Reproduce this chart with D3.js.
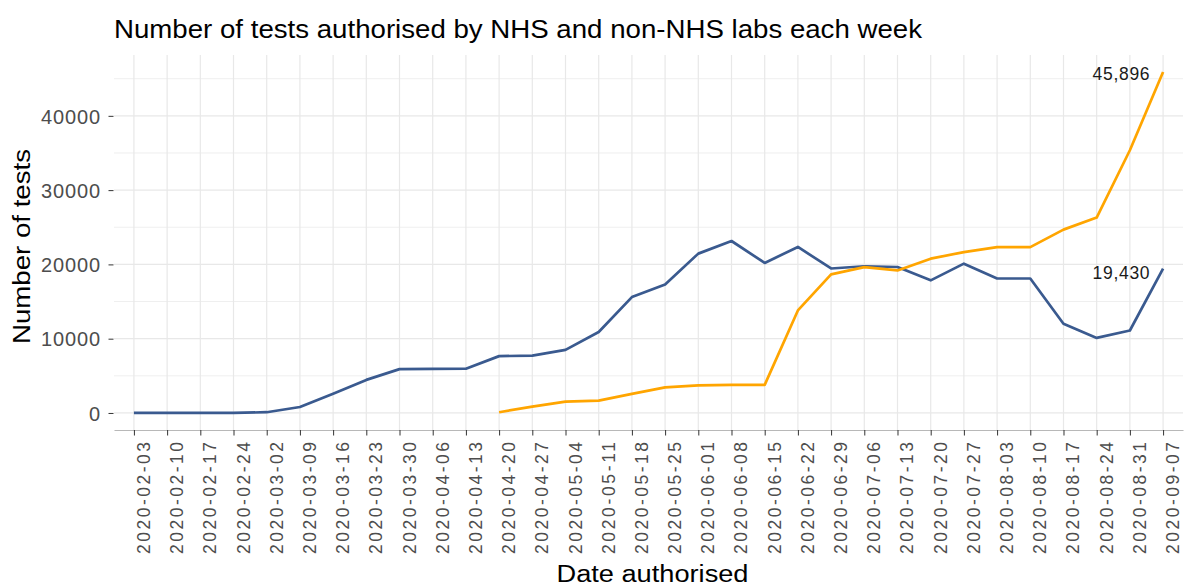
<!DOCTYPE html>
<html>
<head>
<meta charset="utf-8">
<script src="https://cdn.jsdelivr.net/npm/d3@7"></script>
<style>
  body { margin: 0; background: #fff; }
  svg { font-family: "Liberation Sans", Arial, sans-serif; }
</style>
</head>
<body>
<svg width="1192" height="588"></svg>
<script>
// weekly dates on the x axis
const weeks = ["2020-02-03","2020-02-10","2020-02-17","2020-02-24","2020-03-02","2020-03-09",
  "2020-03-16","2020-03-23","2020-03-30","2020-04-06","2020-04-13","2020-04-20","2020-04-27",
  "2020-05-04","2020-05-11","2020-05-18","2020-05-25","2020-06-01","2020-06-08","2020-06-15",
  "2020-06-22","2020-06-29","2020-07-06","2020-07-13","2020-07-20","2020-07-27","2020-08-03",
  "2020-08-10","2020-08-17","2020-08-24","2020-08-31","2020-09-07"]

// NHS labs (blue line)
const nhsTests = [0,0,0,0,100,800,2600,4450,5900,5930,5950,7650,7720,8500,10900,15600,17300,
  21450,23150,20200,22350,19450,19750,19650,17850,20100,18100,18100,12000,10100,11100,19430]

// non-NHS labs (orange line), starts on 2020-04-20
const nonNhsTests = [null,null,null,null,null,null,null,null,null,null,null,100,850,1520,1660,
  2560,3450,3720,3780,3780,13800,18650,19640,19190,20770,21660,22330,22330,24680,26300,35370,45896]

const yTicks = [0, 10000, 20000, 30000, 40000]
const yMinor = [5000, 15000, 25000, 35000, 45000]

const seriesList = [
  { name: "NHS", values: nhsTests, color: "#3a5a8f" },
  { name: "non-NHS", values: nonNhsTests, color: "#ffa500" }
]

const svg = d3.select("svg")
const margin = { top: 55, right: 9, bottom: 158, left: 114 }
const width = +svg.attr("width")
const height = +svg.attr("height")
const innerWidth = width - margin.left - margin.right
const innerHeight = height - margin.top - margin.bottom

// ggplot style padding: 0.6 step on discrete axis, 5% on continuous
const xScale = d3.scalePoint()
  .domain(weeks)
  .range([0, innerWidth])
  .padding(0.6)

const maxVal = d3.max(seriesList, s => d3.max(s.values))
const yScale = d3.scaleLinear()
  .domain([-0.05 * maxVal, 1.05 * maxVal])
  .range([innerHeight, 0])

const g = svg.append("g")
  .attr("transform", `translate(${margin.left},${margin.top})`)

// gridlines
g.append("g").selectAll("line")
  .data(yMinor)
  .join("line")
    .attr("x1", 0).attr("x2", innerWidth)
    .attr("y1", d => yScale(d)).attr("y2", d => yScale(d))
    .attr("stroke", "#efefef").attr("stroke-width", 1)

g.append("g").selectAll("line")
  .data(yTicks)
  .join("line")
    .attr("x1", 0).attr("x2", innerWidth)
    .attr("y1", d => yScale(d)).attr("y2", d => yScale(d))
    .attr("stroke", "#e8e8e8").attr("stroke-width", 1.2)

g.append("g").selectAll("line")
  .data(weeks)
  .join("line")
    .attr("x1", d => xScale(d)).attr("x2", d => xScale(d))
    .attr("y1", 0).attr("y2", innerHeight)
    .attr("stroke", "#e8e8e8").attr("stroke-width", 1.2)

// y axis
const yAxis = g.append("g")
  .call(d3.axisLeft(yScale)
    .tickValues(yTicks)
    .tickFormat(d3.format("d"))
    .tickSize(5)
    .tickPadding(9))
yAxis.select(".domain").remove()
yAxis.selectAll("line").attr("stroke", "#333").attr("transform", "translate(-0.5,0)")
yAxis.selectAll("text")
  .attr("fill", "#4d4d4d")
  .style("font-size", "20px")
  .attr("textLength", d => String(d).length * 11.8)
  .attr("lengthAdjust", "spacing")
  .attr("dy", "0.36em")

// x axis, labels turned to read upwards
const xAxis = g.append("g")
  .attr("transform", `translate(0,${innerHeight})`)
  .call(d3.axisBottom(xScale).tickSize(5.5).tickSizeOuter(0))
xAxis.select(".domain").attr("stroke", "#b8b8b8").attr("stroke-width", 1.2)
xAxis.selectAll(".tick line").attr("stroke", "#333")
xAxis.selectAll("text")
  .attr("fill", "#4d4d4d")
  .style("font-size", "17.5px")
  .attr("textLength", 112)
  .attr("lengthAdjust", "spacing")
  .attr("x", 0)
  .attr("y", 0)
  .attr("dy", 0)
  .attr("text-anchor", "end")
  .attr("transform", "translate(15.5,12) rotate(-90)")

// lines
const line = d3.line()
  .defined(d => d != null)
  .x((d, i) => xScale(weeks[i]))
  .y(d => yScale(d))

g.append("g").selectAll("path")
  .data(seriesList)
  .join("path")
    .attr("fill", "none")
    .attr("stroke", d => d.color)
    .attr("stroke-width", 2.7)
    .attr("stroke-linejoin", "round")
    .attr("d", d => line(d.values))

// end labels
const lastWeek = weeks[weeks.length - 1]
g.append("g").selectAll("text")
  .data(seriesList)
  .join("text")
    .attr("x", xScale(lastWeek) - 13.5)
    .attr("y", d => yScale(d.values[d.values.length - 1]))
    .attr("dy", d => d.name === "NHS" ? "0.6em" : "0.45em")
    .attr("text-anchor", "end")
    .attr("fill", "#1a1a1a")
    .style("font-size", "17.5px")
    .attr("textLength", 57)
    .attr("lengthAdjust", "spacing")
    .text(d => d3.format(",")(d.values[d.values.length - 1]))

// title and axis titles
svg.append("text")
  .attr("x", margin.left)
  .attr("y", 38)
  .attr("textLength", 808)
  .attr("lengthAdjust", "spacingAndGlyphs")
  .style("font-size", "25px")
  .attr("fill", "#000")
  .text("Number of tests authorised by NHS and non-NHS labs each week")

svg.append("text")
  .attr("x", margin.left + innerWidth / 2 + 4)
  .attr("y", 582)
  .attr("text-anchor", "middle")
  .attr("textLength", 192)
  .attr("lengthAdjust", "spacingAndGlyphs")
  .style("font-size", "23px")
  .attr("fill", "#000")
  .text("Date authorised")

svg.append("text")
  .attr("transform", `translate(30,${margin.top + innerHeight / 2 + 4}) rotate(-90)`)
  .attr("text-anchor", "middle")
  .attr("textLength", 195)
  .attr("lengthAdjust", "spacingAndGlyphs")
  .style("font-size", "23.5px")
  .attr("fill", "#000")
  .text("Number of tests")
</script>
</body>
</html>
